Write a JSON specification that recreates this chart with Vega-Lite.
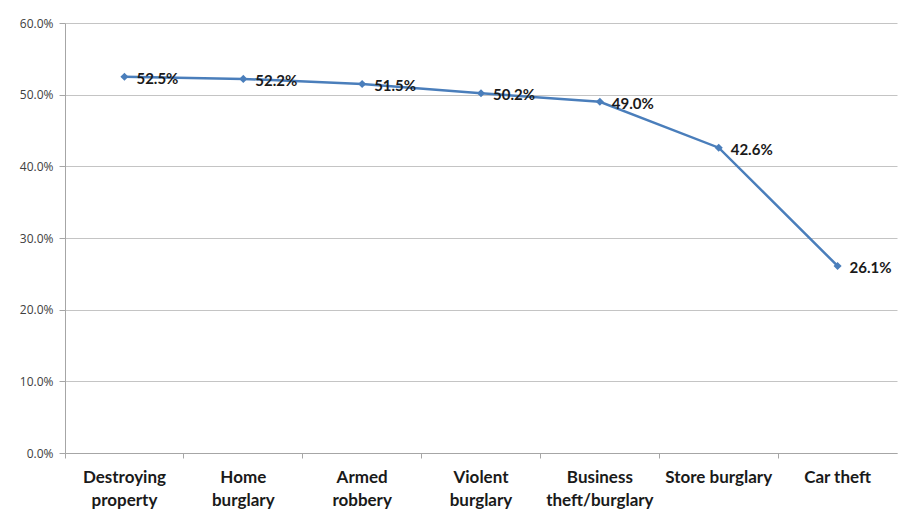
{
  "$schema": "https://vega.github.io/schema/vega-lite/v6.json",
  "width": 832,
  "height": 430,
  "autosize": {"type": "none"},
  "padding": {"left": 65, "top": 23, "right": 4, "bottom": 65},
  "background": "white",
  "config": {
    "view": {"stroke": null},
    "font": "Lato"
  },
  "data": {
    "values": [
      {"crime": "Destroying property", "share": 0.525},
      {"crime": "Home burglary", "share": 0.522},
      {"crime": "Armed robbery", "share": 0.515},
      {"crime": "Violent burglary", "share": 0.502},
      {"crime": "Business theft/burglary", "share": 0.490},
      {"crime": "Store burglary", "share": 0.426},
      {"crime": "Car theft", "share": 0.261}
    ]
  },
  "encoding": {
    "x": {
      "field": "crime",
      "type": "nominal",
      "sort": null,
      "scale": {"type": "band", "paddingInner": 0, "paddingOuter": 0},
      "axis": {
        "title": null,
        "labelAngle": 0,
        "labelFont": "Lato",
        "labelFontWeight": "bold",
        "labelFontSize": 17,
        "labelColor": "#1a1a1a",
        "labelPadding": 11,
        "labelLineHeight": 23,
        "labelBaseline": "top",
        "labelExpr": "datum.value == 'Store burglary' || datum.value == 'Car theft' ? datum.value : split(datum.value, ' ')",
        "bandPosition": 0,
        "domainColor": "#a6a6a6",
        "tickColor": "#a6a6a6",
        "tickSize": 5,
        "grid": false
      }
    },
    "y": {
      "field": "share",
      "type": "quantitative",
      "scale": {"domain": [0, 0.6], "nice": false},
      "axis": {
        "title": null,
        "format": ".1%",
        "values": [0, 0.1, 0.2, 0.3, 0.4, 0.5, 0.6],
        "labelFont": "Open Sans",
        "labelFontSize": 12,
        "labelColor": "#404040",
        "labelPadding": 6,
        "domainColor": "#a6a6a6",
        "tickColor": "#a6a6a6",
        "tickSize": 6,
        "gridColor": "#c4c4c4",
        "gridWidth": 1
      }
    }
  },
  "layer": [
    {
      "mark": {"type": "line", "color": "#4a7ebb", "strokeWidth": 2.5}
    },
    {
      "mark": {"type": "point", "shape": "diamond", "filled": true, "color": "#4a7ebb", "size": 65, "opacity": 1}
    },
    {
      "mark": {"type": "text", "align": "left", "baseline": "middle", "dx": 12, "dy": 2, "fontWeight": "bold", "fontSize": 15, "color": "#1a1a1a"},
      "encoding": {
        "text": {"field": "share", "type": "quantitative", "format": ".1%"}
      }
    }
  ]
}
